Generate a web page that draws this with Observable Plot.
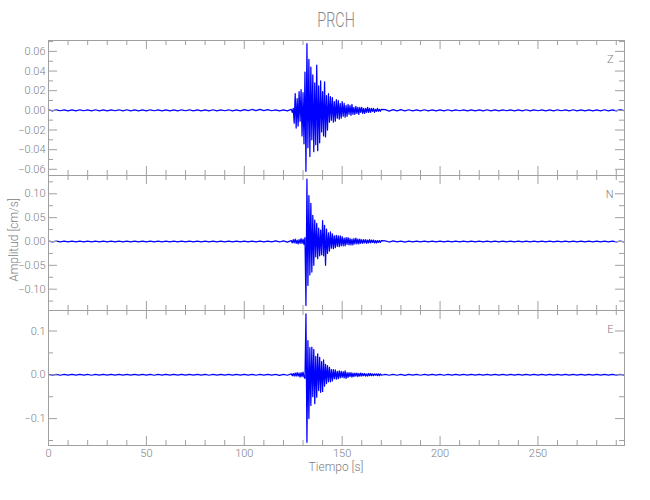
<!DOCTYPE html>
<html>
<head>
<meta charset="utf-8">
<script src="https://cdn.jsdelivr.net/npm/d3@7"></script>
<script src="https://cdn.jsdelivr.net/npm/@observablehq/plot@0.6"></script>
<style>
  html, body { margin: 0; padding: 0; background: #fff; }
  #chart { position: relative; width: 650px; height: 500px; background: #fff;
           font-family: Roboto, "DejaVu Sans", sans-serif; font-weight: 300; color: #808080; overflow: hidden; }
  #chart svg { position: absolute; left: 0; }
  .title { position: absolute; left: 48px; width: 576px; top: 10px; text-align: center;
           font-size: 20px; line-height: 20px; color: #888; }
  .title span { display: inline-block; transform: scaleX(0.72); }
  .xlab { position: absolute; left: 48px; width: 576px; top: 461px; text-align: center; font-size: 12px; line-height: 12px; }
  .ylab { position: absolute; left: 14px; top: 240px; font-size: 12px; line-height: 12px; white-space: nowrap;
          transform: translate(-50%, -50%) rotate(-90deg); }
</style>
</head>
<body>
<div id="chart">
  <div class="title"><span>PRCH</span></div>
  <div class="ylab">Amplitud [cm/s]</div>
  <div class="xlab">Tiempo [s]</div>
</div>
<script>
// ---------- time sampling of the hand-read series ----------
const noiseStep = 2;      // s, quiet parts
const eventStep = 0.5;    // s, strong-motion part
const beforeStart = 0;
const eventStart = 124;
const afterStart = 172;

// ---------- axis ticks ----------
const xTicks = [0, 50, 100, 150, 200, 250];
const xMinor = [10,20,30,40,60,70,80,90,110,120,130,140,160,170,180,190,210,220,230,240,260,270,280,290];
const xDomain = [0, 294.2];

const zTicks = [-0.06, -0.04, -0.02, 0, 0.02, 0.04, 0.06];
const zMinor = [-0.05, -0.03, -0.01, 0.01, 0.03, 0.05, 0.07];
const zDomain = [-0.0663, 0.0711];

const nTicks = [-0.10, -0.05, 0, 0.05, 0.10];
const nMinor = [-0.125, -0.075, -0.025, 0.025, 0.075, 0.125];
const nDomain = [-0.1447, 0.1384];

const eTicks = [-0.1, 0, 0.1];
const eMinor = [-0.15, -0.05, 0.05];
const eDomain = [-0.1614, 0.1468];

const components = ["Z", "N", "E"];

// ---------- Z component (cm/s) ----------
const zBefore = [0.0005,-0.0005,0.0006,-0.0004,0.0005,-0.0006,0.0004,-0.0005,0.0006,-0.0004,
  0.0005,-0.0006,0.0006,-0.0005,0.0004,-0.0006,0.0005,-0.0004,0.0006,-0.0005,
  0.0006,-0.0005,0.0004,-0.0006,0.0005,-0.0006,0.0006,-0.0004,0.0005,-0.0005,
  0.0004,-0.0006,0.0005,-0.0005,0.0006,-0.0004,0.0006,-0.0005,0.0005,-0.0006,
  0.0004,-0.0005,0.0006,-0.0005,0.0005,-0.0004,0.0006,-0.0006,0.0005,-0.0005,
  0.0007,-0.0003,0.0009,-0.0002,0.001,-0.0002,0.0008,-0.0004,0.0005,-0.0006,
  0.0005,-0.0006];
const zEvent = [0.001,-0.002,0.002,-0.013,0.017,-0.018,0.012,-0.016,0.019,-0.011,
  0.021,-0.026,0.018,-0.034,0.039,-0.062,0.068,-0.038,0.052,-0.047,
  0.044,-0.030,0.036,-0.042,0.028,-0.035,0.046,-0.041,0.025,-0.033,
  0.030,-0.022,0.019,-0.026,0.029,-0.027,0.015,-0.020,0.017,-0.012,
  0.014,-0.010,0.013,-0.012,0.009,-0.011,0.011,-0.008,0.010,-0.009,
  0.007,-0.008,0.009,-0.006,0.007,-0.007,0.005,-0.006,0.006,-0.004,
  0.005,-0.005,0.006,-0.004,0.003,-0.004,0.004,-0.003,0.003,-0.004,
  0.003,-0.002,0.003,-0.003,0.002,-0.003,0.002,-0.002,0.003,-0.002,
  0.002,-0.002,0.002,-0.001,0.002,-0.002,0.001,-0.001,0.002,-0.001,
  0.001,-0.001,0.001];
const zAfter = [0.0008,-0.0007,0.0007,-0.0006,0.0007,-0.0005,0.0006,-0.0006,0.0005,-0.0006,
  0.0006,-0.0005,0.0005,-0.0006,0.0005,-0.0005,0.0006,-0.0005,0.0005,-0.0004,
  0.0005,-0.0006,0.0005,-0.0005,0.0004,-0.0005,0.0006,-0.0005,0.0005,-0.0005,
  0.0005,-0.0004,0.0005,-0.0006,0.0005,-0.0005,0.0006,-0.0005,0.0005,-0.0004,
  0.0005,-0.0006,0.0005,-0.0005,0.0006,-0.0004,0.0005,-0.0005,0.0006,-0.0005,
  0.0005,-0.0005,0.0004,-0.0006,0.0005,-0.0005,0.0006,-0.0005,0.0005,-0.0006,
  0.0007,-0.0004];

// ---------- N component (cm/s) ----------
const nBefore = [0.001,-0.0008,0.0009,-0.001,0.0008,-0.0009,0.001,-0.0008,0.0009,-0.001,
  0.0008,-0.0009,0.001,-0.0008,0.0009,-0.0009,0.0008,-0.001,0.001,-0.0008,
  0.0009,-0.001,0.0008,-0.0009,0.001,-0.0008,0.0009,-0.001,0.0008,-0.0009,
  0.001,-0.0008,0.0008,-0.001,0.0009,-0.0009,0.001,-0.0008,0.0009,-0.0009,
  0.0008,-0.001,0.001,-0.0008,0.0009,-0.0009,0.0008,-0.001,0.001,-0.0009,
  0.0009,-0.0008,0.001,-0.0009,0.0009,-0.001,0.0009,-0.001,0.0012,-0.001,
  0.0014,-0.0012];
const nEvent = [0.002,-0.003,0.004,-0.003,0.005,-0.004,0.003,-0.005,0.004,-0.004,
  0.006,-0.004,0.005,-0.006,0.008,-0.134,0.131,-0.092,0.096,-0.070,
  0.080,-0.064,0.055,-0.050,0.045,-0.032,0.038,-0.036,0.028,-0.030,
  0.024,-0.028,0.044,-0.030,0.034,-0.050,0.026,-0.025,0.018,-0.020,
  0.020,-0.014,0.016,-0.015,0.012,-0.013,0.013,-0.010,0.012,-0.011,
  0.012,-0.009,0.010,-0.009,0.007,-0.009,0.008,-0.006,0.008,-0.007,
  0.006,-0.007,0.005,-0.007,0.006,-0.005,0.007,-0.005,0.005,-0.005,
  0.005,-0.004,0.004,-0.004,0.004,-0.003,0.004,-0.004,0.003,-0.003,
  0.004,-0.003,0.003,-0.002,0.003,-0.003,0.002,-0.003,0.002,-0.002,
  0.002,-0.002,0.002];
const nAfter = [0.0012,-0.0011,0.0011,-0.001,0.001,-0.0011,0.001,-0.0009,0.001,-0.001,
  0.0009,-0.001,0.0009,-0.0009,0.001,-0.0009,0.0009,-0.0008,0.0009,-0.0009,
  0.0008,-0.0009,0.0009,-0.0008,0.0009,-0.0008,0.0008,-0.0009,0.0009,-0.0008,
  0.0008,-0.0009,0.0008,-0.0009,0.0009,-0.0008,0.0008,-0.0009,0.0008,-0.0008,
  0.0009,-0.0008,0.0009,-0.0008,0.0008,-0.0009,0.0008,-0.0008,0.0009,-0.0008,
  0.0008,-0.0009,0.0008,-0.0008,0.0009,-0.0008,0.0008,-0.0008,0.0009,-0.0008,
  0.0008,-0.0008];

// ---------- E component (cm/s) ----------
const eBefore = [0.0009,-0.0008,0.0009,-0.001,0.0008,-0.0009,0.001,-0.0008,0.0009,-0.0009,
  0.0008,-0.001,0.0009,-0.0008,0.0009,-0.0009,0.001,-0.0008,0.0008,-0.0009,
  0.0009,-0.0008,0.001,-0.0009,0.0008,-0.0009,0.0009,-0.001,0.0009,-0.0008,
  0.0008,-0.0009,0.0009,-0.0008,0.001,-0.0009,0.0008,-0.0009,0.0009,-0.0008,
  0.0009,-0.001,0.0008,-0.0009,0.0009,-0.0008,0.001,-0.0009,0.0008,-0.0009,
  0.0009,-0.0008,0.0009,-0.001,0.0009,-0.0008,0.001,-0.0009,0.001,-0.0011,
  0.0012,-0.001];
const eEvent = [0.002,-0.002,0.003,-0.003,0.004,-0.003,0.005,-0.003,0.004,-0.005,
  0.005,-0.004,0.006,-0.005,-0.008,0.139,-0.154,0.078,-0.100,0.062,
  -0.070,0.063,-0.050,0.058,-0.066,0.042,-0.051,0.048,-0.036,0.040,
  -0.040,0.030,-0.038,0.034,-0.026,0.024,-0.020,0.021,-0.016,0.017,
  -0.016,0.012,-0.014,0.012,-0.009,0.011,-0.010,0.008,-0.009,0.009,
  -0.007,0.008,-0.006,0.007,-0.007,0.009,-0.008,0.005,-0.006,0.005,
  -0.004,0.005,-0.005,0.004,-0.004,0.004,-0.003,0.004,-0.004,0.003,
  -0.003,0.004,-0.003,0.003,-0.002,0.003,-0.003,0.002,-0.003,0.003,
  -0.002,0.003,-0.002,0.002,-0.002,0.002,-0.001,0.002,-0.002,0.002,
  -0.002,0.002,-0.001];
const eAfter = [0.0011,-0.001,0.0011,-0.001,0.001,-0.0011,0.001,-0.0009,0.001,-0.001,
  0.0009,-0.0009,0.001,-0.0009,0.0009,-0.001,0.0009,-0.0008,0.0009,-0.0009,
  0.0008,-0.0009,0.0009,-0.0008,0.0009,-0.0009,0.0008,-0.0009,0.0009,-0.0008,
  0.0009,-0.0008,0.0009,-0.0009,0.0008,-0.0009,0.0009,-0.0008,0.0009,-0.0009,
  0.0008,-0.0009,0.0009,-0.0008,0.0009,-0.0009,0.0008,-0.0009,0.0009,-0.0008,
  0.0009,-0.0008,0.0009,-0.0009,0.0008,-0.0009,0.0009,-0.0008,0.0009,-0.0009,
  0.0008,-0.0009];

// ---------- build ----------
function samples(values, t0, dt) { return values.map((v, i) => ({t: t0 + i * dt, v})); }
function trace(before, event, after) {
  return [...samples(before, beforeStart, noiseStep), ...samples(event, eventStart, eventStep), ...samples(after, afterStart, noiseStep)];
}

const W = 650, ML = 48, MR = 26, IH = 135;
const IW = W - ML - MR;
const axisColor = "#a0a0a0";
const textColor = "#808080";

function panel({data, yDomain, yTicks, yMinor, fmt, comp, top, showX}) {
  const MT = 0, MB = showX ? 25 : 0;
  const marks = [
    Plot.line(data, {x: "t", y: "v", stroke: "#0000ff", strokeWidth: 1.25, clip: true}),
    Plot.frame({stroke: axisColor}),
    Plot.tickX(xTicks, {x: d => d, stroke: axisColor, insetBottom: IH - 9}),
    Plot.tickX(xMinor, {x: d => d, stroke: axisColor, insetBottom: IH - 5}),
    Plot.tickX(xTicks, {x: d => d, stroke: axisColor, insetTop: IH - 9}),
    Plot.tickX(xMinor, {x: d => d, stroke: axisColor, insetTop: IH - 5}),
    Plot.tickY(yTicks, {y: d => d, stroke: axisColor, insetRight: IW - 9}),
    Plot.tickY(yMinor, {y: d => d, stroke: axisColor, insetRight: IW - 5}),
    Plot.tickY(yTicks, {y: d => d, stroke: axisColor, insetLeft: IW - 9}),
    Plot.tickY(yMinor, {y: d => d, stroke: axisColor, insetLeft: IW - 5}),
    Plot.axisY({ticks: yTicks, tickSize: 0, tickPadding: 3, tickFormat: d3.format(fmt), label: null, fill: textColor}),
    Plot.text([comp], {text: d => d, frameAnchor: "top-right", dx: -11, dy: 15, fill: textColor, fontSize: 11})
  ];
  if (showX) marks.push(Plot.axisX({ticks: xTicks, tickSize: 0, tickPadding: 4, tickFormat: d => String(d), label: null, fill: textColor}));
  const svg = Plot.plot({
    width: W, height: IH + MT + MB,
    marginLeft: ML, marginRight: MR, marginTop: MT, marginBottom: MB,
    x: {domain: xDomain, ...(showX ? {} : {axis: null})},
    y: {domain: yDomain},
    style: {background: "transparent", overflow: "visible", fontFamily: "Roboto, 'DejaVu Sans', sans-serif", fontSize: "11px", fontWeight: 300, color: textColor},
    marks
  });
  svg.style.top = (top - MT) + "px";
  document.getElementById("chart").appendChild(svg);
}

panel({data: trace(zBefore, zEvent, zAfter), yDomain: zDomain, yTicks: zTicks, yMinor: zMinor, fmt: ".2f", comp: components[0], top: 40, showX: false});
panel({data: trace(nBefore, nEvent, nAfter), yDomain: nDomain, yTicks: nTicks, yMinor: nMinor, fmt: ".2f", comp: components[1], top: 175, showX: false});
panel({data: trace(eBefore, eEvent, eAfter), yDomain: eDomain, yTicks: eTicks, yMinor: eMinor, fmt: ".1f", comp: components[2], top: 310, showX: true});
</script>
</body>
</html>
